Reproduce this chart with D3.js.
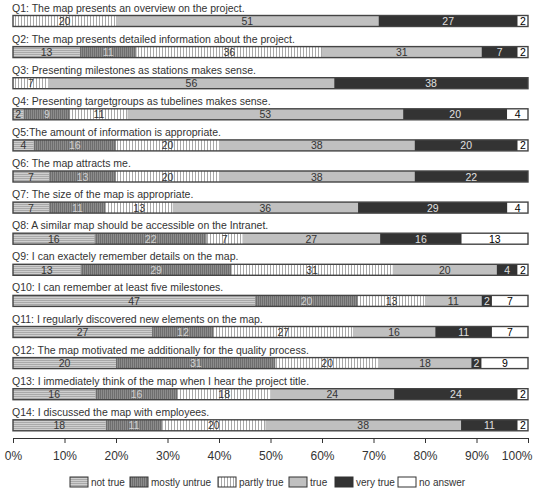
<!DOCTYPE html>
<html>
<head>
<meta charset="utf-8">
<script src="https://cdn.jsdelivr.net/npm/d3@7"></script>
<style>
body { margin: 0; background: #fff; }
text { font-family: "Liberation Sans", Arial, sans-serif; }
</style>
</head>
<body>
<script>
var w = 533;
var h = 493;

var questions = [
	"Q1: The map presents an overview on the project.",
	"Q2: The map presents detailed information about the project.",
	"Q3: Presenting milestones as stations makes sense.",
	"Q4: Presenting targetgroups as tubelines makes sense.",
	"Q5:The amount of information is appropriate.",
	"Q6: The map attracts me.",
	"Q7: The size of the map is appropriate.",
	"Q8: A similar map should be accessible on the Intranet.",
	"Q9: I can exactely remember details on the map.",
	"Q10: I can remember at least five milestones.",
	"Q11: I regularly discovered new elements on the map.",
	"Q12: The map motivated me additionally for the quality process.",
	"Q13: I immediately think of the map when I hear the project title.",
	"Q14: I discussed the map with employees."
];

var categories = ["not true", "mostly untrue", "partly true", "true", "very true", "no answer"];

// one array per answer category, one value per question
var notTrue      = [0, 13, 0, 2, 4, 7, 7, 16, 13, 47, 27, 20, 16, 18];
var mostlyUntrue = [0, 11, 0, 9, 16, 13, 11, 22, 29, 20, 12, 31, 16, 11];
var partlyTrue   = [20, 36, 7, 11, 20, 20, 13, 7, 31, 13, 27, 20, 18, 20];
var trueVals     = [51, 31, 56, 53, 38, 38, 36, 27, 20, 11, 16, 18, 24, 38];
var veryTrue     = [27, 7, 38, 20, 20, 22, 29, 16, 4, 2, 11, 2, 24, 11];
var noAnswer     = [2, 2, 0, 4, 2, 0, 4, 13, 2, 7, 7, 9, 2, 2];

var tickLabels = ["0%", "10%", "20%", "30%", "40%", "50%", "60%", "70%", "80%", "90%", "100%"];

var series = [notTrue, mostlyUntrue, partlyTrue, trueVals, veryTrue, noAnswer];
var rows = questions.map(function(q, i) {
	var r = { q: q };
	categories.forEach(function(c, j) { r[c] = series[j][i]; });
	return r;
});

var stacked = d3.stack()
	.keys(categories)
	.offset(d3.stackOffsetExpand)(rows);

var fills = ["url(#pNot)", "url(#pMostly)", "url(#pPartly)", "#c0c0c0", "#333333", "#ffffff"];
var textColors = ["#333", "#d0d0d0", "#333", "#333", "#e0e0e0", "#000"];

var xScale = d3.scaleLinear().domain([0, 1]).range([13, 528]);
var yScale = d3.scalePoint().domain(questions).range([15.5, 419.8]);
var barH = 11;

var svg = d3.select("body")
	.append("svg")
	.attr("width", w)
	.attr("height", h);

var defs = svg.append("defs");

// not true: light gray with horizontal lines
var p1 = defs.append("pattern").attr("id", "pNot")
	.attr("patternUnits", "userSpaceOnUse").attr("width", 4).attr("height", 2);
p1.append("rect").attr("width", 4).attr("height", 2).attr("fill", "#cfcfcf");
p1.append("rect").attr("width", 4).attr("height", 1).attr("fill", "#a9a9a9");

// mostly untrue: dark gray with vertical lines
var p2 = defs.append("pattern").attr("id", "pMostly")
	.attr("patternUnits", "userSpaceOnUse").attr("width", 2).attr("height", 4);
p2.append("rect").attr("width", 2).attr("height", 4).attr("fill", "#8c8c8c");
p2.append("rect").attr("width", 1).attr("height", 4).attr("fill", "#6e6e6e");

// partly true: white with gray vertical stripes
var p3 = defs.append("pattern").attr("id", "pPartly")
	.attr("patternUnits", "userSpaceOnUse").attr("width", 3).attr("height", 4);
p3.append("rect").attr("width", 3).attr("height", 4).attr("fill", "#ffffff");
p3.append("rect").attr("width", 1).attr("height", 4).attr("fill", "#a8a8a8");

// question titles
svg.selectAll("text.q")
	.data(questions)
	.enter()
	.append("text")
	.attr("class", "q")
	.attr("x", 12)
	.attr("y", function(d) { return yScale(d) - 4; })
	.attr("font-size", "10.5px")
	.attr("fill", "#333")
	.text(function(d) { return d; });

// segments
var groups = svg.selectAll("g.layer")
	.data(stacked)
	.enter()
	.append("g")
	.attr("class", "layer");

groups.selectAll("rect")
	.data(function(d) { return d; })
	.enter()
	.append("rect")
	.attr("x", function(d) { return xScale(d[0]); })
	.attr("y", function(d) { return yScale(d.data.q); })
	.attr("width", function(d) { return xScale(d[1]) - xScale(d[0]); })
	.attr("height", barH)
	.attr("fill", function() { return fills[d3.select(this.parentNode).datum().index]; });

groups.selectAll("text")
	.data(function(d) { return d.filter(function(s) { return s.data[d.key] > 0; }); })
	.enter()
	.append("text")
	.attr("x", function(d) { return (xScale(d[0]) + xScale(d[1])) / 2; })
	.attr("y", function(d) { return yScale(d.data.q) + barH / 2 + 4; })
	.attr("text-anchor", "middle")
	.attr("font-size", "10.5px")
	.attr("fill", function() { return textColors[d3.select(this.parentNode).datum().index]; })
	.text(function(d) { return d.data[d3.select(this.parentNode).datum().key]; });

// bar outlines
svg.selectAll("rect.outline")
	.data(questions)
	.enter()
	.append("rect")
	.attr("class", "outline")
	.attr("x", xScale(0))
	.attr("y", function(d) { return yScale(d); })
	.attr("width", xScale(1) - xScale(0))
	.attr("height", barH)
	.attr("fill", "none")
	.attr("stroke", "#444")
	.attr("stroke-width", 1.4);

// x axis
var xAxis = d3.axisBottom(xScale)
	.tickValues(d3.range(0, 1.01, 0.1))
	.tickSize(5)
	.tickPadding(8)
	.tickFormat(function(d, i) { return tickLabels[i]; });

var ax = svg.append("g")
	.attr("transform", "translate(0,438)")
	.call(xAxis);
ax.selectAll("path, line").attr("stroke", "#333");
ax.selectAll("text")
	.attr("font-size", "12px")
	.attr("fill", "#333")
	.style("font-family", "'Liberation Sans', Arial, sans-serif");
// keep "100%" inside the window
ax.selectAll("text")
	.filter(function(d, i) { return i === tickLabels.length - 1; })
	.attr("text-anchor", "end")
	.attr("dx", 4);

// legend
var legendX = [70, 130, 218, 289, 335, 398];
var legend = svg.selectAll("g.legend")
	.data(categories)
	.enter()
	.append("g")
	.attr("class", "legend")
	.attr("transform", function(d, i) { return "translate(" + legendX[i] + ",477)"; });

legend.append("rect")
	.attr("width", 18)
	.attr("height", 10)
	.attr("fill", function(d, i) { return fills[i]; })
	.attr("stroke", "#333")
	.attr("stroke-width", 1);

legend.append("text")
	.attr("x", 21)
	.attr("y", 9)
	.attr("font-size", "10px")
	.attr("fill", "#333")
	.text(function(d) { return d; });
</script>
</body>
</html>
